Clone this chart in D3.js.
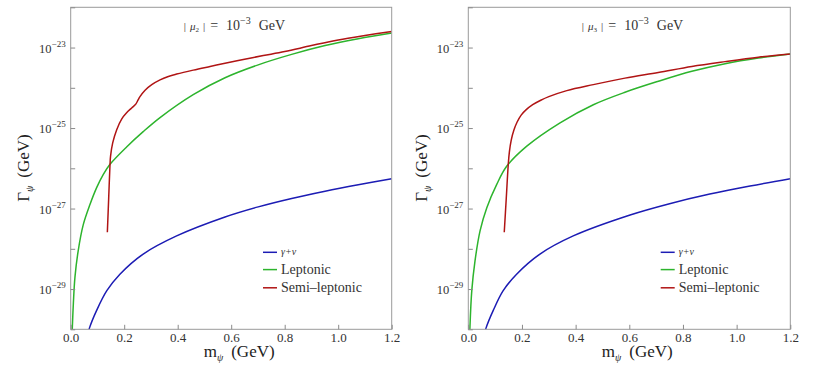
<!DOCTYPE html>
<html><head><meta charset="utf-8">
<script src="https://cdn.jsdelivr.net/npm/d3@7/dist/d3.min.js"></script>
<style>body{margin:0;background:#fff} svg{display:block} text{font-family:"Liberation Serif","Times New Roman",serif}</style>
</head><body>
<svg id="chart" width="814" height="366"></svg>
<script>
// ---------- data ----------
const xTicks = [0.0, 0.2, 0.4, 0.6, 0.8, 1.0, 1.2];
const xTickLabels = ["0.0", "0.2", "0.4", "0.6", "0.8", "1.0", "1.2"];
const yMajorExps = [-23, -25, -27, -29];
const yMinorExps = [-22, -24, -26, -28, -30];
const seriesNames = ["γ+ν", "Leptonic", "Semi\u2013leptonic"];
const seriesColors = ["#1c1cb4", "#2db42d", "#b01414"];
const panelTitles = ["2", "3"];

// panel 1 : |mu_2| = 1e-3 GeV
const p1GammaX = [0.068, 0.070, 0.097, 0.135, 0.184, 0.271, 0.396, 0.577, 0.701, 0.826, 0.951, 1.075, 1.2];
const p1GammaY = [9.5e-31, 1.07e-30, 2.95e-30, 9.12e-30, 2.34e-29, 7.41e-29, 2.09e-28, 6.17e-28, 1.10e-27, 1.78e-27, 2.69e-27, 3.89e-27, 5.50e-27];
const p1LeptX = [0.0055, 0.006, 0.010, 0.016, 0.028, 0.047, 0.072, 0.097, 0.122, 0.147, 0.209, 0.271, 0.334, 0.458, 0.577, 0.701, 0.826, 0.951, 1.075, 1.2];
const p1LeptY = [8.0e-31, 1.07e-30, 4.47e-30, 2.0e-29, 8.91e-29, 3.98e-28, 1.26e-27, 3.31e-27, 7.08e-27, 1.26e-26, 3.39e-26, 8.13e-26, 1.82e-25, 6.76e-25, 1.78e-24, 3.72e-24, 6.76e-24, 1.12e-23, 1.66e-23, 2.29e-23];
const p1SemiX = [0.137, 0.142, 0.147, 0.149, 0.157, 0.172, 0.191, 0.209, 0.228, 0.244, 0.252, 0.259, 0.278, 0.303, 0.334, 0.365, 0.396, 0.458, 0.521, 0.577, 0.65, 0.72, 0.80, 0.90, 1.0, 1.1, 1.2];
const p1SemiY = [2.57e-28, 1.80e-27, 1.26e-26, 2.0e-26, 4.27e-26, 9.12e-26, 1.70e-25, 2.40e-25, 3.16e-25, 3.98e-25, 5.01e-25, 6.03e-25, 8.71e-25, 1.20e-24, 1.58e-24, 1.91e-24, 2.19e-24, 2.75e-24, 3.39e-24, 4.07e-24, 5.13e-24, 6.31e-24, 7.94e-24, 1.12e-23, 1.55e-23, 2.0e-23, 2.51e-23];

// panel 2 : |mu_3| = 1e-3 GeV
const p2GammaX = [0.064, 0.066, 0.093, 0.130, 0.180, 0.267, 0.391, 0.603, 0.75, 0.9, 1.05, 1.2];
const p2GammaY = [9.5e-31, 1.07e-30, 2.95e-30, 9.12e-30, 2.34e-29, 7.41e-29, 2.09e-28, 6.92e-28, 1.32e-27, 2.29e-27, 3.63e-27, 5.50e-27];
const p2LeptX = [0.0055, 0.006, 0.013, 0.025, 0.044, 0.069, 0.106, 0.143, 0.218, 0.342, 0.466, 0.584, 0.708, 0.833, 0.957, 1.081, 1.2];
const p2LeptY = [8.0e-31, 1.07e-30, 9.12e-30, 5.01e-29, 2.82e-28, 1.05e-27, 3.98e-27, 1.12e-26, 3.55e-26, 1.35e-25, 3.80e-25, 7.76e-25, 1.45e-24, 2.57e-24, 3.98e-24, 5.50e-24, 6.92e-24];
const p2SemiX = [0.134, 0.1415, 0.149, 0.153, 0.160, 0.170, 0.182, 0.197, 0.215, 0.240, 0.270, 0.30, 0.367, 0.466, 0.584, 0.708, 0.833, 0.957, 1.081, 1.2];
const p2SemiY = [2.57e-28, 1.80e-27, 1.26e-26, 2.51e-26, 5.01e-26, 8.91e-26, 1.41e-25, 2.09e-25, 2.82e-25, 3.80e-25, 4.90e-25, 6.03e-25, 8.51e-25, 1.20e-24, 1.74e-24, 2.40e-24, 3.39e-24, 4.47e-24, 5.75e-24, 6.92e-24];

// ---------- drawing ----------
const svg = d3.select("#chart");
const yTop = 7.3, yBot = 329.3;
const TXT = "#333";

const panels = [
  {x0: 70.7, x1: 391.7, title: panelTitles[0], legX: 263,
   series: [[p1GammaX, p1GammaY], [p1LeptX, p1LeptY], [p1SemiX, p1SemiY]]},
  {x0: 468.3, x1: 790.3, title: panelTitles[1], legX: 660.7,
   series: [[p2GammaX, p2GammaY], [p2LeptX, p2LeptY], [p2SemiX, p2SemiY]]}
];

panels.forEach((p, pi) => {
  const x = d3.scaleLinear().domain([0, 1.2]).range([p.x0, p.x1]);
  const y = d3.scaleLog().domain([1e-30, 1e-22]).range([yBot, yTop]);
  const g = svg.append("g");

  const clipId = "clip" + pi;
  svg.append("defs").append("clipPath").attr("id", clipId)
    .append("rect").attr("x", p.x0).attr("y", yTop).attr("width", p.x1 - p.x0).attr("height", yBot - yTop);

  // curves
  const line = d3.line().x(d => x(d[0])).y(d => y(d[1])).curve(d3.curveCatmullRom.alpha(0.5));
  const cg = g.append("g").attr("clip-path", `url(#${clipId})`);
  p.series.forEach((s, i) => {
    const pts = s[0].map((v, k) => [v, s[1][k]]);
    cg.append("path").attr("d", line(pts)).attr("fill", "none")
      .attr("stroke", seriesColors[i]).attr("stroke-width", 1.5);
  });

  // frame
  g.append("rect").attr("x", p.x0).attr("y", yTop).attr("width", p.x1 - p.x0).attr("height", yBot - yTop)
    .attr("fill", "none").attr("stroke", "#9a9a9a").attr("stroke-width", 1);

  // x axis
  const xAxis = d3.axisBottom(x).tickValues(xTicks).tickSizeInner(-4.5).tickSizeOuter(0)
    .tickPadding(3).tickFormat((d, i) => xTickLabels[i]);
  const xa = g.append("g").attr("transform", `translate(0,${yBot})`).call(xAxis);
  xa.attr("font-family", null);
  xa.select(".domain").remove();
  xa.selectAll(".tick line").attr("stroke", "#8a8a8a");
  xa.selectAll(".tick text").attr("font-size", 13).attr("fill", TXT);

  // y axis ticks
  const allExps = yMajorExps.concat(yMinorExps);
  const yAxis = d3.axisLeft(y).tickValues(allExps.map(e => Math.pow(10, e))).tickSizeInner(-4.5)
    .tickSizeOuter(0).tickFormat("");
  const ya = g.append("g").attr("transform", `translate(${p.x0},0)`).call(yAxis);
  ya.select(".domain").remove();
  ya.selectAll(".tick line").attr("stroke", "#8a8a8a");
  yMajorExps.forEach(e => {
    const t = g.append("text").attr("x", p.x0 - 5).attr("y", y(Math.pow(10, e)) + 5)
      .attr("text-anchor", "end").attr("fill", TXT);
    t.append("tspan").attr("font-size", 12.5).text("10");
    t.append("tspan").attr("font-size", 9).attr("dy", -6).text("\u2212" + (-e));
  });

  // axis titles
  const cx = (p.x0 + p.x1) / 2;
  const xt = g.append("text").attr("x", cx + 8).attr("y", 357).attr("text-anchor", "middle")
    .attr("fill", "#222").attr("font-size", 17);
  xt.append("tspan").text("m");
  xt.append("tspan").attr("font-size", 10).attr("dy", 4).attr("font-style", "italic").text("ψ");
  xt.append("tspan").attr("dy", -4).attr("dx", 8).text("(GeV)");

  const yt = g.append("text").attr("transform", `translate(${p.x0 - 41.5},168) rotate(-90)`)
    .attr("text-anchor", "middle").attr("fill", "#222").attr("font-size", 17);
  yt.append("tspan").text("Γ");
  yt.append("tspan").attr("font-size", 10).attr("dy", 4).attr("font-style", "italic").text("ψ");
  yt.append("tspan").attr("dy", -4).attr("dx", 8).text("(GeV)");

  // panel title
  const tt = g.append("text").attr("x", cx - 47.5).attr("y", 30).attr("fill", TXT);
  tt.append("tspan").attr("font-size", 11).text("|");
  tt.append("tspan").attr("font-size", 11).attr("dx", 4).attr("font-style", "italic").text("μ");
  tt.append("tspan").attr("font-size", 7).attr("dy", 2).text(p.title);
  tt.append("tspan").attr("font-size", 11).attr("dy", -2).attr("dx", 4).text("|");
  tt.append("tspan").attr("font-size", 14).attr("dx", 5).text("=");
  tt.append("tspan").attr("font-size", 14).attr("dx", 8).text("10");
  tt.append("tspan").attr("font-size", 10).attr("dy", -6).text("\u22123");
  tt.append("tspan").attr("font-size", 14).attr("dy", 6).attr("dx", 8).text("GeV");

  // legend
  const legY = [252.3, 269.6, 287.8];
  seriesNames.forEach((nm, i) => {
    g.append("line").attr("x1", p.legX).attr("x2", p.legX + 14).attr("y1", legY[i]).attr("y2", legY[i])
      .attr("stroke", seriesColors[i]).attr("stroke-width", 1.5);
    const lt = g.append("text").attr("x", p.legX + 18).attr("y", legY[i] + (i === 0 ? 3 : 4.5))
      .attr("fill", TXT).attr("font-size", i === 0 ? 10 : 14)
      .text(nm);
    if (i === 0) lt.attr("font-style", "italic");
  });
});
</script>
</body></html>
